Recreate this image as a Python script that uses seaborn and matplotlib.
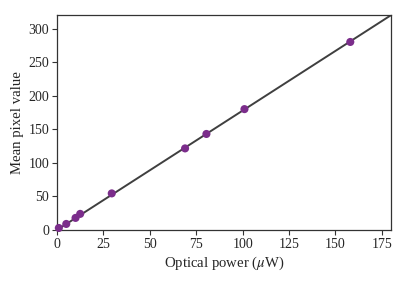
import matplotlib
matplotlib.use("Agg")
import matplotlib.pyplot as plt
import seaborn as sns
import pandas as pd

power_uW = [1, 5, 10, 12.5, 29.5, 69, 80.5, 101, 158]
mean_pixel = [3, 9, 18, 24, 54.5, 121.5, 143, 180, 280]
fit_x = [0, 180]
fit_y = [0, 320]

sns.set_style("ticks")
plt.rcParams['font.family'] = ['Liberation Serif', 'DejaVu Serif']
plt.rcParams['mathtext.fontset'] = 'stix'

fig = plt.figure(figsize=(4.07, 2.85), dpi=100)
ax = fig.add_axes([0.14, 0.193, 0.821, 0.754])

df = pd.DataFrame({"x": power_uW, "y": mean_pixel})
fit = pd.DataFrame({"x": fit_x, "y": fit_y})
sns.lineplot(data=fit, x="x", y="y", ax=ax, color="#3f3f3f", linewidth=1.4, zorder=2)
sns.scatterplot(data=df, x="x", y="y", ax=ax, color="#7b2d8b", s=34, edgecolor="none", zorder=3, clip_on=False)

ax.set_xlim(0, 180)
ax.set_ylim(0, 320)
ax.set_xticks([0, 25, 50, 75, 100, 125, 150, 175])
ax.set_yticks([0, 50, 100, 150, 200, 250, 300])
ax.set_xlabel(r"Optical power ($\mu$W)", fontsize=10.6, labelpad=3)
ax.set_ylabel("Mean pixel value", fontsize=10.6, labelpad=3)
ax.tick_params(labelsize=10, length=3.5, width=0.8, color="#333333", pad=2)
for s in ax.spines.values():
    s.set_visible(True)
    s.set_color("#333333")
    s.set_linewidth(0.9)

fig.savefig("out.png", dpi=100)
